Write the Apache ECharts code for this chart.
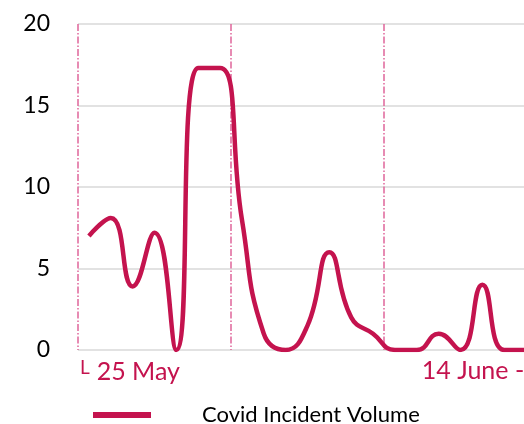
<!DOCTYPE html>
<html>
<head>
<meta charset="utf-8">
<script src="https://cdn.jsdelivr.net/npm/echarts@6/dist/echarts.min.js"></script>
<style>
  html, body { margin: 0; padding: 0; background: #fff; }
  #chart { width: 524px; height: 424px; }
</style>
</head>
<body>
<div id="chart"></div>
<script>
// daily incident counts, starting 25 May
const days = [
  '25 May', '26 May', '27 May', '28 May', '29 May', '30 May', '31 May',
  '1 June', '2 June', '3 June', '4 June', '5 June', '6 June', '7 June',
  '8 June', '14 June - 20 June', '10 June', '11 June', '12 June', '13 June', '14 June'
]
const volume = [7, 8.1, 3.9, 7.2, 0, 17.3, 17.3, 8, 1, 0, 1.5, 6, 2, 1, 0, 0, 1, 0, 4, 0, 0]
const yTicks = { min: 0, max: 20, step: 5 }
const labelled = [0, 15]

const crimson = '#C4134E'
const font = 'Lato'

const chart = echarts.init(document.getElementById('chart'))

chart.setOption({
  animation: false,
  textStyle: { fontFamily: font },
  grid: {
    left: 78,
    right: -13,
    top: 24,
    bottom: 74,
    containLabel: false,
    outerBoundsMode: 'none',
  },
  legend: {
    left: 93,
    top: 404,
    padding: 0,
    icon: 'rect',
    itemWidth: 58,
    itemHeight: 6,
    textStyle: {
      fontFamily: font,
      fontSize: 22,
      color: '#000',
      padding: [0, 0, 0, 46],
    },
    data: ['Covid Incident Volume'],
  },
  xAxis: {
    type: 'category',
    data: days,
    boundaryGap: true,
    axisLine: { show: false },
    axisTick: { show: false },
    splitLine: {
      show: true,
      interval: (i) => i % 7 === 0,
      lineStyle: {
        color: '#E0659A',
        width: 1.5,
        type: [7, 2, 1.5, 2],
      },
    },
    axisLabel: {
      interval: (i) => labelled.indexOf(i) >= 0,
      align: 'left',
      margin: 8,
      color: crimson,
      fontSize: 25,
      fontFamily: font,
      hideOverlap: false,
      padding: [0, 0, 0, -9],
      formatter: (val, i) => (i === 0 ? '{s|L}{g|}' + val : '{g2|}' + val),
      rich: {
        s: { fontSize: 19, color: crimson, fontFamily: font, verticalAlign: 'top', padding: [0, 0, 8, 0] },
        g: { width: 7 },
        g2: { width: 14 },
      },
    },
  },
  yAxis: {
    type: 'value',
    min: yTicks.min,
    max: yTicks.max,
    interval: yTicks.step,
    axisLine: { show: false },
    axisTick: { show: false },
    axisLabel: {
      margin: 28,
      color: '#000',
      fontSize: 23,
      fontFamily: font,
    },
    splitLine: {
      lineStyle: { color: '#D9D9D9', width: 1.5 },
    },
  },
  series: [{
    name: 'Covid Incident Volume',
    type: 'line',
    data: volume,
    smooth: 0.5,
    showSymbol: false,
    color: crimson,
    lineStyle: { color: crimson, width: 4.5 },
  }],
})
</script>
</body>
</html>
